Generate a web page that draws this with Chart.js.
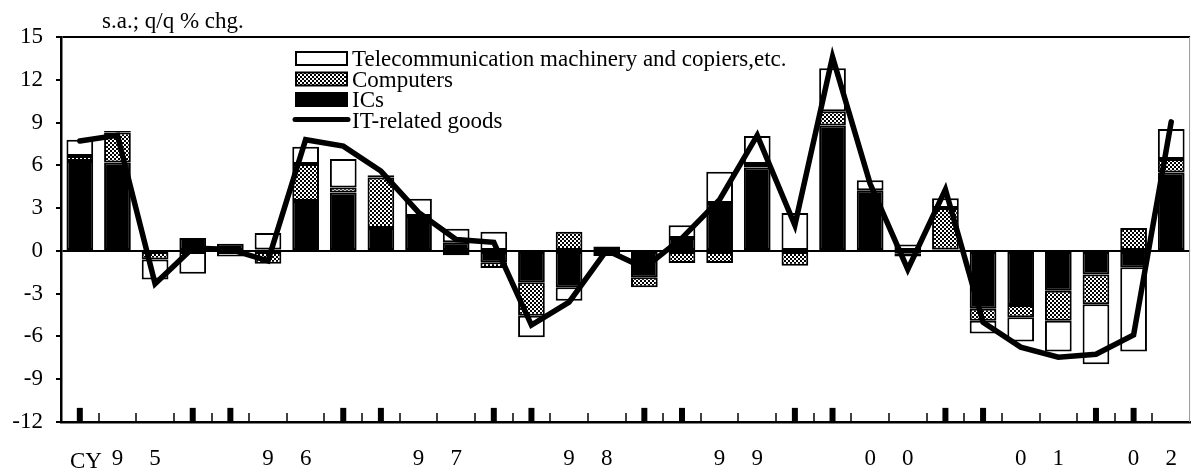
<!DOCTYPE html>
<html>
<head>
<meta charset="utf-8">
<script src="https://cdn.jsdelivr.net/npm/chart.js@4/dist/chart.umd.min.js"></script>
<style>
  html, body { margin: 0; padding: 0; background: #fff; }
  canvas { display: block; }
</style>
</head>
<body>
<canvas id="chart" width="1192" height="471"></canvas>
<script>
// quarter tick labels, CY1995 Q1 .. CY2002 Q2
const tickLabels = ['', '9', '5', '', '', '9', '6', '', '', '9', '7', '', '', '9', '8', '',
                    '', '9', '9', '', '', '0', '0', '', '', '0', '1', '', '0', '2'];

// contributions (s.a.; q/q % chg.)
const ics = [6.3, 6.2, 0, 0.9, 0.5, 0.1, 3.5, 4.1, 1.6, 2.45, 0.6, -0.8, -2.2, -2.55, 0.3,
             -1.85, 0.9, 3.35, 5.85, 0, 8.8, 4.25, -0.2, 0.1, -4.05, -3.8, -2.8, -1.65, -1.15, 5.5];
const computers = [0.35, 2.1, -0.6, 0, 0, -0.9, 2.6, 0.35, 3.55, 0, -0.3, -0.4, -2.35, 1.35, -0.15,
                   -0.7, -0.85, -0.85, 0.25, -1.05, 1.0, 0, -0.2, 2.9, -0.85, -0.85, -2.1, -2.1, 1.6, 0.95];
const telecom = [1.15, 0.1, -1.4, -1.6, -0.4, 1.15, 1.2, 2.0, 0.15, 1.2, 0.95, 1.35, -1.5, -0.95, -0.2,
                 0, 0.9, 2.2, 1.95, 2.65, 3.0, 0.7, 0.45, 0.7, -0.9, -1.7, -2.15, -4.2, -5.9, 2.1];
const itGoods = [7.7, 8.1, -2.3, 0.2, 0.1, -0.7, 7.8, 7.35, 5.6, 2.7, 0.8, 0.6, -5.2, -3.6, 0.05,
                 -1.2, 0.9, 3.6, 8.1, 1.8, 13.6, 4.7, -1.3, 4.3, -5.0, -6.75, -7.45, -7.25, -5.9, 9.05];

// short year-boundary markers sitting on the bottom axis
const yearMarks = [-11.5, null, null, -11.5, -11.5, null, null, -11.5, -11.5, null, null, -11.5, -11.5, null, null,
                   -11.5, -11.5, null, null, -11.5, -11.5, null, null, -11.5, -11.5, null, null, -11.5, -11.5, null];

const FONT = "'Liberation Serif', 'Times New Roman', serif";
const FSIZE = 23;

//Checker pattern for the computers series
function makeChecker(cell) {
    const c = document.createElement('canvas');
    c.width = cell * 2;
    c.height = cell * 2;
    const g = c.getContext('2d');
    g.fillStyle = '#fff';
    g.fillRect(0, 0, c.width, c.height);
    g.fillStyle = '#000';
    g.fillRect(0, 0, cell, cell);
    g.fillRect(cell, cell, cell, cell);
    return g.createPattern(c, 'repeat');
}
const checker = makeChecker(2);

//Title, CY label, inner x ticks, right frame and legend
const decor = {
    id: 'decor',
    afterDraw(chart) {
        const ctx = chart.ctx;
        const area = chart.chartArea;
        const xs = chart.scales.x;
        ctx.save();
        ctx.fillStyle = '#000';
        ctx.font = FSIZE + 'px ' + FONT;
        ctx.textAlign = 'left';
        ctx.textBaseline = 'alphabetic';
        ctx.fillText('s.a.; q/q % chg.', 102, 28);
        ctx.fillText('CY', 70, 468);

        ctx.strokeStyle = '#000';
        ctx.lineWidth = 1.5;
        for (let i = 0; i < tickLabels.length - 1; i++) {
            const x = Math.round((xs.getPixelForValue(i) + xs.getPixelForValue(i + 1)) / 2);
            ctx.beginPath();
            ctx.moveTo(x, area.bottom - 9);
            ctx.lineTo(x, area.bottom);
            ctx.stroke();
        }

        ctx.strokeStyle = '#999';
        ctx.lineWidth = 1;
        ctx.beginPath();
        ctx.moveTo(area.right - 0.5, area.top);
        ctx.lineTo(area.right - 0.5, area.bottom);
        ctx.stroke();

        // legend
        const ds = chart.data.datasets;
        const items = [ds[2], ds[1], ds[0], ds[3]];
        const lx = 295, ly = 51, bw = 53, bh = 15, row = 20.5;
        items.forEach((d, i) => {
            const top = ly + i * row;
            if (d.type === 'line') {
                ctx.strokeStyle = '#000';
                ctx.lineWidth = 5;
                ctx.lineCap = 'round';
                ctx.beginPath();
                ctx.moveTo(lx, top + 7);
                ctx.lineTo(lx + bw, top + 7);
                ctx.stroke();
            } else {
                ctx.fillStyle = '#000';
                ctx.fillRect(lx, top, bw, bh);
                ctx.fillStyle = d.backgroundColor;
                ctx.fillRect(lx + 2, top + 2, bw - 4, bh - 4);
            }
            ctx.fillStyle = '#000';
            ctx.fillText(d.label, lx + bw + 4, top + 15);
        });
        ctx.restore();
    }
};

new Chart(document.getElementById('chart'), {
    data: {
        labels: tickLabels,
        datasets: [
            {
                type: 'bar', label: 'ICs', data: ics, stack: 'goods', order: 2,
                backgroundColor: '#000', borderColor: '#000', borderWidth: 2, borderSkipped: false,
            },
            {
                type: 'bar', label: 'Computers', data: computers, stack: 'goods', order: 2,
                backgroundColor: checker, borderColor: '#000', borderWidth: 2, borderSkipped: false,
            },
            {
                type: 'bar', label: 'Telecommunication machinery and copiers,etc.', data: telecom, stack: 'goods', order: 2,
                backgroundColor: '#fff', borderColor: '#000', borderWidth: 2, borderSkipped: false,
            },
            {
                type: 'line', label: 'IT-related goods', data: itGoods, stack: 'total', order: 1,
                borderColor: '#000', borderWidth: 5.5, pointRadius: 0, tension: 0,
                borderCapStyle: 'round', borderJoinStyle: 'miter',
            },
            {
                type: 'line', label: 'marks', data: yearMarks, stack: 'marks', order: 0,
                showLine: false, pointStyle: 'line', pointRotation: 90, pointRadius: 7,
                pointBorderWidth: 6, pointBorderColor: '#000', pointBackgroundColor: '#000',
            },
        ],
    },
    options: {
        responsive: false,
        animation: false,
        devicePixelRatio: 1,
        layout: { autoPadding: false, padding: { top: 37, right: 1, left: 0, bottom: 0 } },
        datasets: { bar: { barPercentage: 0.71, categoryPercentage: 1 } },
        scales: {
            x: {
                stacked: true,
                grid: { display: false },
                border: { display: true, color: '#000', width: 2.5 },
                ticks: {
                    color: '#000', font: { family: FONT, size: FSIZE },
                    autoSkip: false, maxRotation: 0, padding: 15,
                },
                afterFit(scale) { scale.height = 49; },
            },
            y: {
                stacked: true,
                min: -12,
                max: 15,
                border: { display: true, color: '#000', width: 2.5 },
                grid: {
                    color: (c) => (c.tick && (c.tick.value === 0 || c.tick.value === 15)) ? '#000' : 'rgba(0,0,0,0)',
                    lineWidth: 2,
                    tickColor: '#000',
                    tickWidth: 2,
                    tickLength: 5,
                },
                ticks: {
                    stepSize: 3, color: '#000', padding: 13,
                    font: { family: FONT, size: FSIZE },
                },
                afterFit(scale) { scale.width = 61; },
            },
        },
        plugins: {
            legend: { display: false },
            tooltip: { enabled: false },
        },
    },
    plugins: [decor],
});
</script>
</body>
</html>
